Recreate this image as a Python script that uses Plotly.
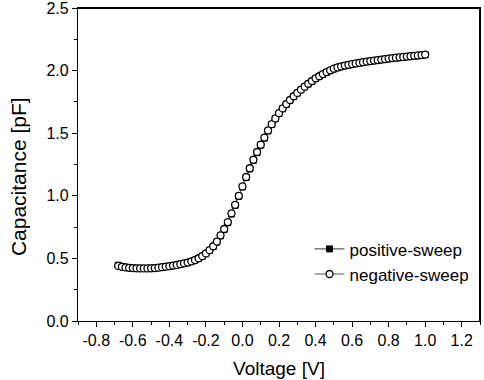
import plotly.graph_objects as go

voltage = [
    -0.68, -0.66, -0.64, -0.62, -0.60, -0.58, -0.56, -0.54, -0.52, -0.50,
    -0.48, -0.46, -0.44, -0.42, -0.40, -0.38, -0.36, -0.34, -0.32, -0.30,
    -0.28, -0.26, -0.24, -0.22, -0.20, -0.18, -0.16, -0.14, -0.12, -0.10,
    -0.08, -0.06, -0.04, -0.02, 0.00, 0.02, 0.04, 0.06, 0.08, 0.10,
    0.12, 0.14, 0.16, 0.18, 0.20, 0.22, 0.24, 0.26, 0.28, 0.30,
    0.32, 0.34, 0.36, 0.38, 0.40, 0.42, 0.44, 0.46, 0.48, 0.50,
    0.52, 0.54, 0.56, 0.58, 0.60, 0.62, 0.64, 0.66, 0.68, 0.70,
    0.72, 0.74, 0.76, 0.78, 0.80, 0.82, 0.84, 0.86, 0.88, 0.90,
    0.92, 0.94, 0.96, 0.98, 1.00,
]

negative_sweep = [
    0.440, 0.433, 0.428, 0.425, 0.423, 0.421, 0.420, 0.420, 0.420, 0.421,
    0.423, 0.426, 0.430, 0.434, 0.438, 0.443, 0.448, 0.454, 0.460, 0.467,
    0.476, 0.487, 0.501, 0.518, 0.540, 0.566, 0.597, 0.634, 0.684, 0.735,
    0.790, 0.860, 0.928, 1.000, 1.075, 1.150, 1.220, 1.288, 1.350, 1.408,
    1.465, 1.522, 1.572, 1.618, 1.660, 1.698, 1.733, 1.765, 1.795, 1.822,
    1.848, 1.872, 1.895, 1.917, 1.938, 1.955, 1.972, 1.988, 2.002, 2.015,
    2.025, 2.033, 2.040, 2.046, 2.052, 2.057, 2.062, 2.067, 2.072, 2.076,
    2.080, 2.084, 2.088, 2.092, 2.096, 2.100, 2.103, 2.106, 2.109, 2.112,
    2.115, 2.118, 2.121, 2.124, 2.128,
]

positive_sweep = [
    0.445, 0.436, 0.430, 0.426, 0.423, 0.421, 0.420, 0.419, 0.420, 0.421,
    0.423, 0.425, 0.429, 0.433, 0.437, 0.442, 0.447, 0.453, 0.459, 0.466,
    0.475, 0.486, 0.500, 0.517, 0.538, 0.564, 0.595, 0.631, 0.680, 0.731,
    0.786, 0.855, 0.924, 0.996, 1.071, 1.146, 1.216, 1.284, 1.347, 1.405,
    1.462, 1.519, 1.569, 1.615, 1.657, 1.695, 1.731, 1.763, 1.793, 1.820,
    1.846, 1.870, 1.893, 1.915, 1.936, 1.954, 1.970, 1.986, 2.000, 2.013,
    2.024, 2.032, 2.039, 2.045, 2.051, 2.056, 2.061, 2.066, 2.071, 2.075,
    2.079, 2.083, 2.087, 2.091, 2.095, 2.099, 2.102, 2.105, 2.108, 2.111,
    2.114, 2.117, 2.120, 2.123, 2.127,
]

x_ticks = [-0.8, -0.6, -0.4, -0.2, 0.0, 0.2, 0.4, 0.6, 0.8, 1.0, 1.2]
y_ticks = [0.0, 0.5, 1.0, 1.5, 2.0, 2.5]

FONT = "Liberation Sans, Arial, sans-serif"

fig = go.Figure()
fig.add_trace(go.Scatter(
    x=voltage, y=positive_sweep, name="positive-sweep",
    mode="lines+markers",
    line=dict(color="#333333", width=1),
    marker=dict(symbol="square", size=6, color="black",
                line=dict(color="black", width=1)),
))
fig.add_trace(go.Scatter(
    x=voltage, y=negative_sweep, name="negative-sweep",
    mode="lines+markers",
    line=dict(color="#555555", width=1),
    marker=dict(symbol="circle", size=7, color="white",
                line=dict(color="black", width=1.3)),
))

axis_common = dict(
    showline=True, linecolor="black", linewidth=1.2, mirror=True,
    showgrid=False, zeroline=False, automargin=False,
    ticks="outside", ticklen=5, tickwidth=1, tickcolor="black",
    ticklabeloverflow="allow",
    tickfont=dict(family=FONT, size=16, color="black"),
)

fig.update_xaxes(
    range=[-0.9, 1.3], tickvals=x_ticks,
    ticktext=[f"{v:.1f}" for v in x_ticks],
    minor=dict(ticks="outside", ticklen=3, dtick=0.1, tick0=0, tickcolor="black"),
    title=dict(text="Voltage [V]", font=dict(family=FONT, size=19, color="black"),
               standoff=13),
    **axis_common,
)
fig.update_yaxes(
    range=[0, 2.5], tickvals=y_ticks,
    ticktext=[f"{v:.1f}" for v in y_ticks],
    minor=dict(ticks="outside", ticklen=3, dtick=0.25, tick0=0, tickcolor="black"),
    **axis_common,
)

# frame around the plotting area (top and right edges), drawn as explicit lines
fig.add_shape(type="line", xref="paper", yref="paper", x0=0, x1=1, y0=1, y1=1,
              line=dict(color="black", width=2), layer="above")
fig.add_shape(type="line", xref="paper", yref="paper", x0=1, x1=1, y0=0, y1=1,
              line=dict(color="black", width=2), layer="above")

fig.add_annotation(
    text="Capacitance [pF]", textangle=-90,
    xref="paper", yref="paper", x=-0.149, y=0.46,
    xanchor="center", yanchor="middle", showarrow=False,
    font=dict(family=FONT, size=21, color="black"),
)

fig.update_layout(
    width=484, height=380,
    margin=dict(l=78, r=4, t=8, b=59, autoexpand=False),
    paper_bgcolor="white", plot_bgcolor="white",
    font=dict(family=FONT, size=16, color="black"),
    legend=dict(x=0.576, y=0.2865, xanchor="left", yanchor="top",
                bgcolor="rgba(0,0,0,0)", font=dict(family=FONT, size=17),
                itemwidth=30, tracegroupgap=0),
    showlegend=True,
)

# remove the default 8px page margin so the 484x380 figure fills the window exactly
fig.write_html(
    "out.html",
    config={"displayModeBar": False},
    post_script="document.body.style.margin='0';document.body.style.overflow='hidden';",
)
